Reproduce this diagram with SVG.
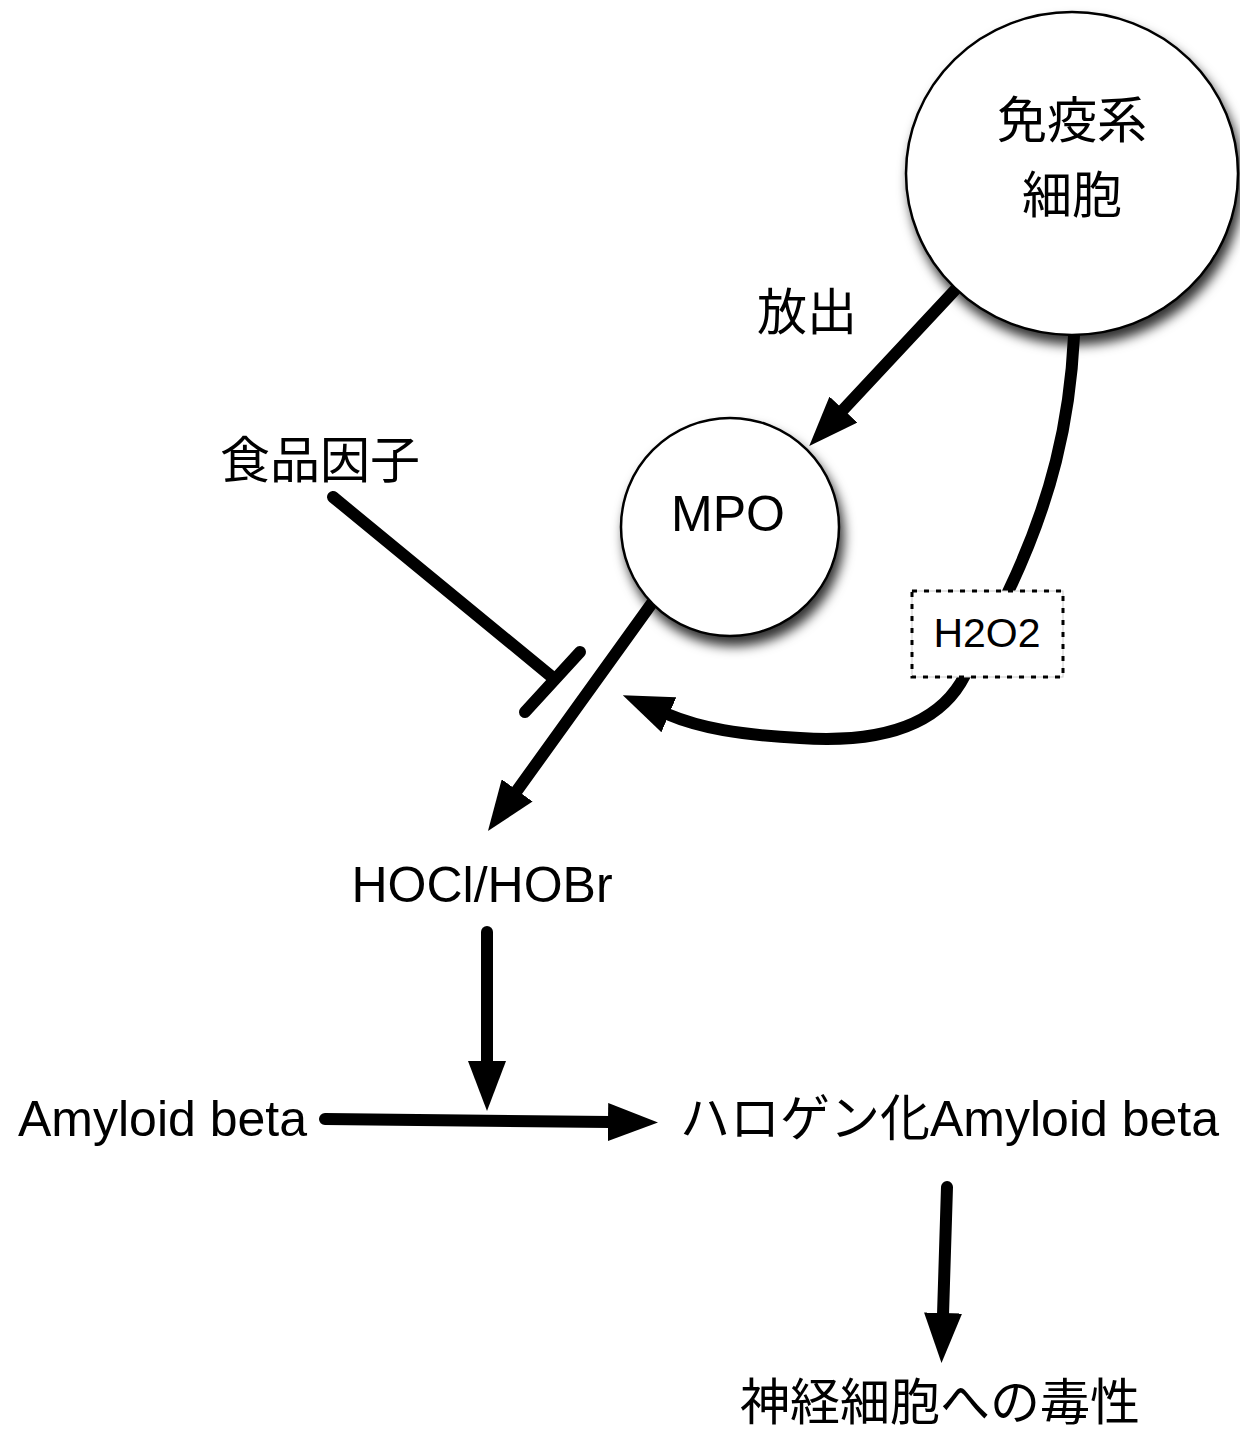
<svg xmlns="http://www.w3.org/2000/svg" width="1240" height="1435" viewBox="0 0 1240 1435">
<style>
  text { font-family: "Liberation Sans", "Noto Sans CJK JP", sans-serif; fill: #000; }
  .lbl { font-size: 50px; }
  .node { fill: #fff; stroke: #000; stroke-width: 2.5; filter: url(#shadow); }
  .conn { fill: none; stroke: #000; stroke-width: 12; stroke-linecap: round; }
  .arrow { marker-end: url(#head); }
</style>
<defs>
  <filter id="shadow" x="-20%" y="-20%" width="150%" height="150%">
    <feDropShadow dx="4" dy="9" stdDeviation="6" flood-color="#000" flood-opacity="0.8"/>
  </filter>
  <marker id="head" viewBox="0 0 50 38" markerWidth="50" markerHeight="38" refX="2" refY="19" orient="auto" markerUnits="userSpaceOnUse">
    <path d="M0,0 L50,19 L0,38 Z" fill="#000"/>
  </marker>
</defs>

<g id="connectors">
  <path class="conn arrow" d="M955,290 L842,411"/>
  <path class="conn" d="M1074,336 C1070,420 1052,500 1008,592"/>
  <path class="conn arrow" d="M965,675 C935,735 860,742 800,738 C740,735 700,728 667,714"/>
  <path class="conn arrow" d="M652,603 L516,792"/>
  <path class="conn" d="M333,497 L552,677"/>
  <path class="conn" d="M525,712 L580,652"/>
  <path class="conn arrow" d="M487,932 L487,1063"/>
  <path class="conn arrow" d="M325,1119 L610,1122"/>
  <path class="conn arrow" d="M947,1187 L943,1315"/>
</g>

<g id="immune-cell">
  <ellipse class="node" cx="1072" cy="173.5" rx="166" ry="161.5"/>
  <text class="lbl" x="1072" y="138" text-anchor="middle">免疫系</text>
  <text class="lbl" x="1072" y="213" text-anchor="middle">細胞</text>
</g>

<g id="release-label">
  <text class="lbl" x="757" y="330">放出</text>
</g>

<g id="mpo">
  <circle class="node" cx="730" cy="527" r="109"/>
  <text class="lbl" x="728" y="531" text-anchor="middle">MPO</text>
</g>

<g id="h2o2">
  <rect x="912" y="591" width="151" height="86" fill="#fff" stroke="#ccc" stroke-width="1"/>
  <rect x="912" y="591" width="151" height="86" fill="none" stroke="#000" stroke-width="3" stroke-dasharray="5 7"/>
  <text x="987" y="647" text-anchor="middle" font-size="41">H2O2</text>
</g>

<g id="food-factor">
  <text class="lbl" x="220" y="478">食品因子</text>
</g>

<g id="hocl">
  <text class="lbl" x="482" y="902" text-anchor="middle">HOCl/HOBr</text>
</g>

<g id="amyloid">
  <text class="lbl" x="18" y="1136">Amyloid beta</text>
</g>

<g id="halo-amyloid">
  <text class="lbl" x="680" y="1136">ハロゲン化Amyloid beta</text>
</g>

<g id="toxicity">
  <text class="lbl" x="740" y="1420">神経細胞への毒性</text>
</g>
</svg>
